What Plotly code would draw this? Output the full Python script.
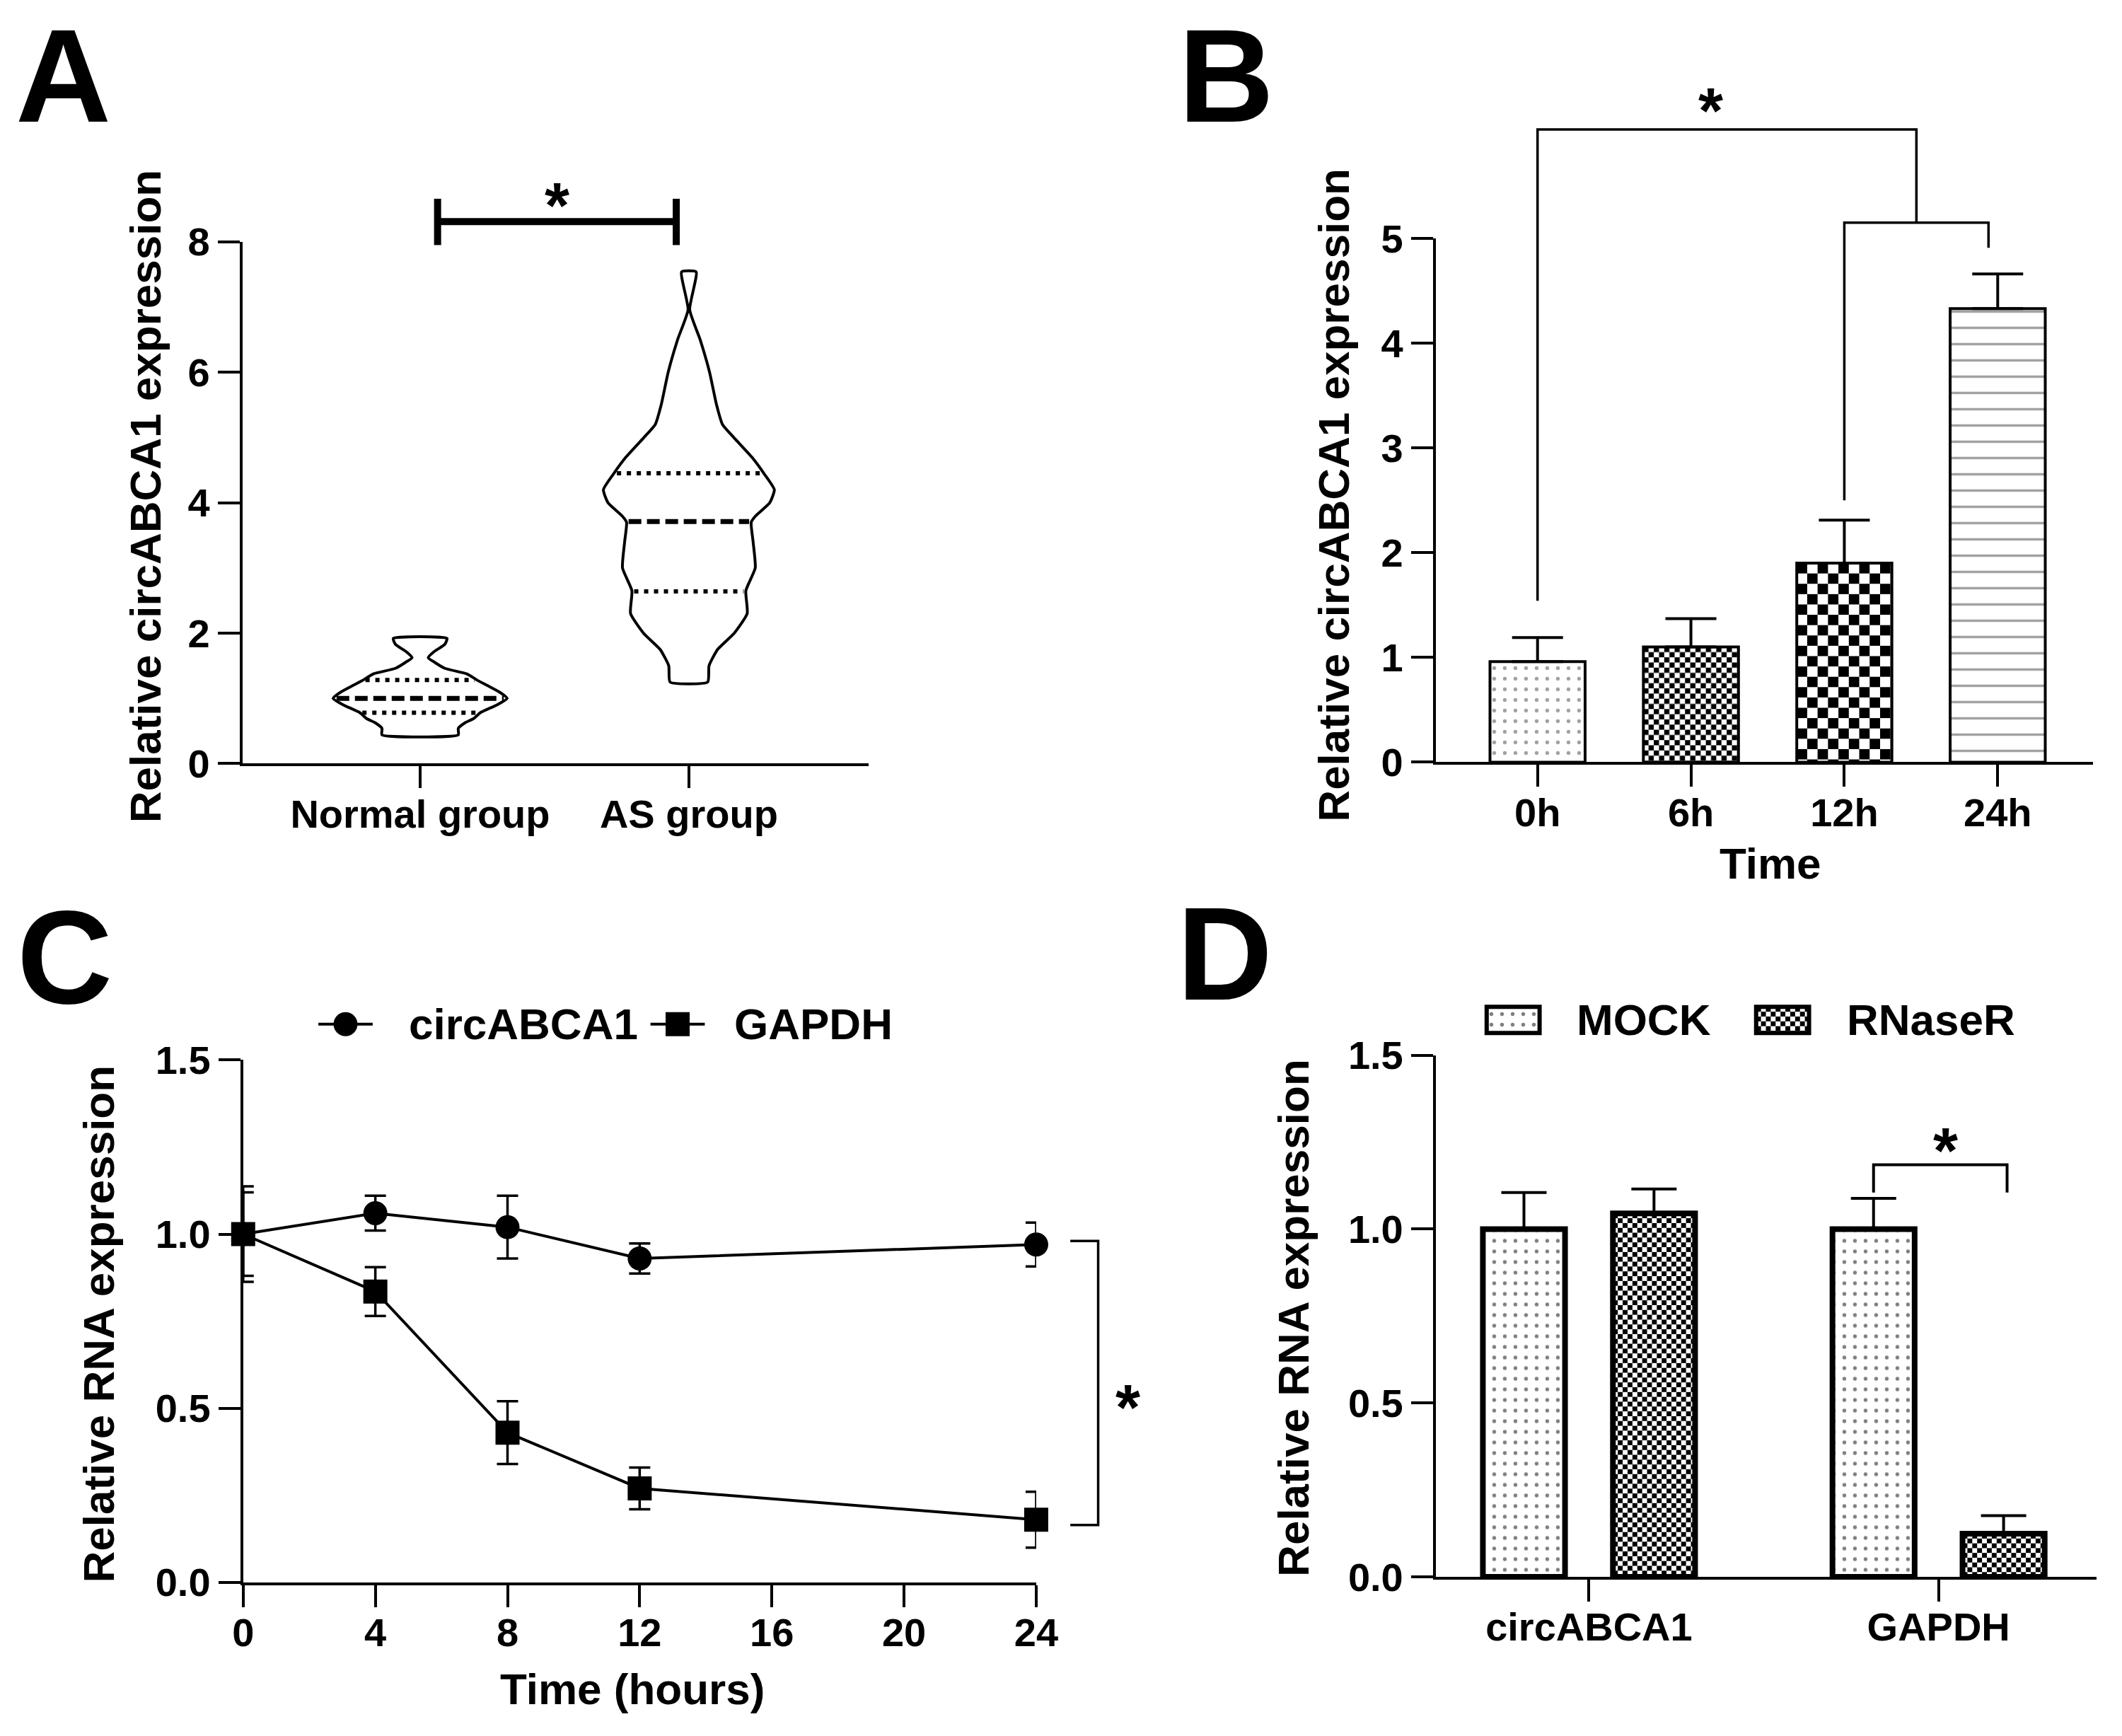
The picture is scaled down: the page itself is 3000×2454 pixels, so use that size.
import base64

import numpy as np
import plotly.graph_objects as go

W, H = 3000, 2454
FONT = "Liberation Sans, Arial, Helvetica, sans-serif"

# ---------------- data ----------------
# A: violin outlines (level, half width in category units) and quartiles
violin_groups = ["Normal group", "AS group"]
normal_levels = [0.44, 0.54, 0.62, 0.69, 0.78, 0.90, 1.00, 1.10, 1.20, 1.28,
                 1.375, 1.46, 1.55, 1.625, 1.71, 1.83, 1.92]
normal_width = [0.142, 0.142, 0.165, 0.199, 0.224, 0.286, 0.324, 0.294, 0.249, 0.212,
                0.174, 0.092, 0.055, 0.03, 0.05, 0.092, 0.10]
normal_quartiles = [0.78, 1.00, 1.28]
as_levels = [1.25, 1.50, 1.75, 2.00, 2.30, 2.65, 3.00, 3.40, 3.70, 3.80, 4.00,
             4.20, 4.45, 4.70, 5.00, 5.20, 5.50, 6.00, 6.50, 6.96, 7.54]
as_width = [0.07, 0.075, 0.107, 0.169, 0.217, 0.212, 0.247, 0.239, 0.232, 0.249, 0.301,
            0.318, 0.279, 0.234, 0.167, 0.125, 0.103, 0.077, 0.042, 0.003, 0.027]
as_quartiles = [2.64, 3.71, 4.45]

# B: expression over time
time_labels = ["0h", "6h", "12h", "24h"]
time_means = [0.96, 1.10, 1.90, 4.33]
time_err = [0.23, 0.27, 0.41, 0.33]

# C: RNA stability
hours = [0, 4, 8, 12, 24]
hour_ticks = [0, 4, 8, 12, 16, 20, 24]
circ_decay = [1.00, 1.06, 1.02, 0.93, 0.97]
circ_decay_err = [0.12, 0.05, 0.09, 0.043, 0.063]
gapdh_decay = [1.00, 0.835, 0.43, 0.27, 0.18]
gapdh_decay_err = [0.137, 0.07, 0.09, 0.06, 0.08]

# D: RNase R digestion
rnase_genes = ["circABCA1", "GAPDH"]
mock_vals = [1.00, 1.00]
mock_err = [0.105, 0.088]
rnaser_vals = [1.045, 0.124]
rnaser_err = [0.07, 0.052]


def px(x):
    return x / W


def py(y):
    return 1 - y / H


def to_paper(v, dom, rng):
    return dom[0] + (v - rng[0]) / (rng[1] - rng[0]) * (dom[1] - dom[0])


# panel geometry (pixel positions of axis ends in the reference)
DA_X, DA_Y = (px(332), px(1231)), (py(1076), py(319))
DB_X, DB_Y = (px(2046), px(2990)), (py(1074), py(314))
DC_X, DC_Y = (px(333), px(1472)), (py(2264), py(1506))
DD_X, DD_Y = (px(2046), px(2995)), (py(2256), py(1499))
RA_X, RA_Y = [-0.661, 1.668], [0, 8]
RB_X, RB_Y = [-0.663, 3.622], [0, 5]
RC_X, RC_Y = [0, 24], [0, 1.5]
RD_X, RD_Y = [-0.438, 1.452], [0, 1.5]


def checker_uri(w, h, cell):
    # checkerboard texture used as bar fill
    svg = (f"<svg xmlns='http://www.w3.org/2000/svg' width='{w:.0f}' height='{h:.0f}'>"
           f"<defs><pattern id='p' width='{2 * cell}' height='{2 * cell}' patternUnits='userSpaceOnUse'>"
           f"<rect width='{cell}' height='{cell}'/><rect x='{cell}' y='{cell}' width='{cell}' height='{cell}'/>"
           f"</pattern></defs><rect width='100%' height='100%' fill='white'/>"
           f"<rect width='100%' height='100%' fill='url(#p)'/></svg>")
    return "data:image/svg+xml;base64," + base64.b64encode(svg.encode()).decode()


DOTS = dict(shape=".", size=15, solidity=0.1, fgcolor="black", fillmode="overlay")

fig = go.Figure()
images = []

# ---------------- A: violins ----------------
for c, (lv, wd, qs) in enumerate([(normal_levels, normal_width, normal_quartiles),
                                  (as_levels, as_width, as_quartiles)]):
    lv, wd = np.array(lv), np.array(wd)
    xs = np.r_[c + wd, (c - wd)[::-1], c + wd[0]]
    ys = np.r_[lv, lv[::-1], lv[0]]
    fig.add_trace(go.Scatter(x=xs, y=ys, mode="lines", fill="toself", fillcolor="white",
                             line=dict(color="black", width=4, shape="spline", smoothing=0.5),
                             xaxis="x", yaxis="y", hoverinfo="skip"))
    for i, q in enumerate(qs):
        h = np.interp(q, lv, wd) * 0.96
        median = i == 1
        fig.add_trace(go.Scatter(x=[c - h, c + h], y=[q, q], mode="lines",
                                 line=dict(color="black", width=7 if median else 6,
                                           dash="18px,8px" if median else "6px,8px"),
                                 xaxis="x", yaxis="y", hoverinfo="skip"))

# ---------------- B: bars over time ----------------
b_width = 0.62
b_checker = [None, 7.5, 15, None]
fig.add_trace(go.Bar(
    x=list(range(len(time_labels))), y=time_means, width=b_width,
    marker=dict(color=["white", "rgba(0,0,0,0)", "rgba(0,0,0,0)", "white"],
                line=dict(color="black", width=4),
                pattern=dict(shape=[".", "", "", "-"], size=[15, 10, 10, 23],
                             solidity=[0.1, 0.3, 0.3, 0.15], fgcolor="black",
                             fillmode="overlay")),
    error_y=dict(type="data", array=time_err, arrayminus=[0] * len(time_err), symmetric=False,
                 color="black", thickness=4, width=36),
    xaxis="x2", yaxis="y2"))
bx_unit = (DB_X[1] - DB_X[0]) * W / (RB_X[1] - RB_X[0])
by_unit = (DB_Y[1] - DB_Y[0]) * H / (RB_Y[1] - RB_Y[0])
for i, cell in enumerate(b_checker):
    if cell:
        images.append(dict(source=checker_uri(b_width * bx_unit, time_means[i] * by_unit, cell),
                           xref="x2", yref="y2", x=i - b_width / 2, y=time_means[i],
                           sizex=b_width, sizey=time_means[i], xanchor="left", yanchor="top",
                           sizing="stretch", layer="below"))

# ---------------- C: decay lines ----------------
for vals, errs, sym in [(circ_decay, circ_decay_err, "circle"), (gapdh_decay, gapdh_decay_err, "square")]:
    fig.add_trace(go.Scatter(
        x=hours, y=vals, mode="lines+markers", cliponaxis=False,
        line=dict(color="black", width=4),
        marker=dict(symbol=sym, size=34, color="black"),
        error_y=dict(type="data", array=errs, color="black", thickness=3.5, width=15),
        xaxis="x3", yaxis="y3"))

# ---------------- D: grouped bars ----------------
bar_w, shift = 0.235, 0.186
dx_unit = (DD_X[1] - DD_X[0]) * W / (RD_X[1] - RD_X[0])
dy_unit = (DD_Y[1] - DD_Y[0]) * H / (RD_Y[1] - RD_Y[0])
fig.add_trace(go.Bar(
    x=list(range(len(rnase_genes))), y=mock_vals, width=bar_w, offset=-shift - bar_w / 2,
    marker=dict(color="white", line=dict(color="black", width=8), pattern=DOTS),
    error_y=dict(type="data", array=mock_err, arrayminus=[0, 0], symmetric=False,
                 color="black", thickness=4, width=32),
    xaxis="x4", yaxis="y4"))
fig.add_trace(go.Bar(
    x=list(range(len(rnase_genes))), y=rnaser_vals, width=bar_w, offset=shift - bar_w / 2,
    marker=dict(color="rgba(0,0,0,0)", line=dict(color="black", width=8)),
    error_y=dict(type="data", array=rnaser_err, arrayminus=[0, 0], symmetric=False,
                 color="black", thickness=4, width=32),
    xaxis="x4", yaxis="y4"))
for i, v in enumerate(rnaser_vals):
    images.append(dict(source=checker_uri(bar_w * dx_unit, v * dy_unit, 7),
                       xref="x4", yref="y4", x=i + shift - bar_w / 2, y=v,
                       sizex=bar_w, sizey=v, xanchor="left", yanchor="top",
                       sizing="stretch", layer="below"))

# ---------------- custom legends on a page-pixel axis ----------------
for x0, sym in [(441, "circle"), (918, "square")]:
    fig.add_trace(go.Scatter(x=[x0, x0 + 78], y=[1454, 1454], mode="lines",
                             line=dict(color="black", width=4),
                             xaxis="x5", yaxis="y5", hoverinfo="skip"))
    fig.add_trace(go.Scatter(x=[x0 + 39], y=[1454], mode="markers", cliponaxis=False,
                             marker=dict(symbol=sym, size=34, color="black"),
                             xaxis="x5", yaxis="y5", hoverinfo="skip"))
fig.add_trace(go.Bar(x=[2157], y=[38], base=[1429], width=[76],
                     marker=dict(color="white", line=dict(color="black", width=6), pattern=DOTS),
                     xaxis="x5", yaxis="y5", hoverinfo="skip"))
fig.add_trace(go.Bar(x=[2544], y=[38], base=[1429], width=[76],
                     marker=dict(color="rgba(0,0,0,0)", line=dict(color="black", width=6)),
                     xaxis="x5", yaxis="y5", hoverinfo="skip"))
images.append(dict(source=checker_uri(76, 38, 7), xref="x5", yref="y5", x=2506, y=1429,
                   sizex=76, sizey=38, xanchor="left", yanchor="top", sizing="stretch",
                   layer="below"))

# ---------------- axes ----------------
tickfont = dict(family=FONT, size=56, color="black", weight="bold")


def ax(**kw):
    base = dict(showline=True, linecolor="black", linewidth=4, ticks="outside", ticklen=31,
                tickwidth=4, tickcolor="black", showgrid=False, zeroline=False,
                tickfont=tickfont, fixedrange=True)
    base.update(kw)
    return base


XSTAND, YSTAND = -12, 0
fig.update_layout(
    xaxis=ax(domain=DA_X, range=RA_X, tickvals=[0, 1], ticktext=violin_groups, anchor="y",
             ticklabelstandoff=XSTAND),
    yaxis=ax(domain=DA_Y, range=RA_Y, tickvals=[0, 2, 4, 6, 8], anchor="x",
             ticklabelstandoff=YSTAND),
    xaxis2=ax(domain=DB_X, range=RB_X, tickvals=list(range(len(time_labels))),
              ticktext=time_labels, anchor="y2", ticklabelstandoff=XSTAND),
    yaxis2=ax(domain=DB_Y, range=RB_Y, dtick=1, anchor="x2", ticklabelstandoff=YSTAND),
    xaxis3=ax(domain=DC_X, range=RC_X, tickvals=hour_ticks, anchor="y3",
              ticklabelstandoff=XSTAND),
    yaxis3=ax(domain=DC_Y, range=RC_Y, dtick=0.5, tickformat=".1f", anchor="x3",
              ticklabelstandoff=YSTAND),
    xaxis4=ax(domain=DD_X, range=RD_X, tickvals=list(range(len(rnase_genes))),
              ticktext=rnase_genes, anchor="y4", ticklabelstandoff=XSTAND),
    yaxis4=ax(domain=DD_Y, range=RD_Y, dtick=0.5, tickformat=".1f", anchor="x4",
              ticklabelstandoff=YSTAND),
    xaxis5=dict(domain=[0, 1], range=[0, W], visible=False, anchor="y5", fixedrange=True),
    yaxis5=dict(domain=[0, 1], range=[H, 0], visible=False, anchor="x5", fixedrange=True),
)


# ---------------- significance marks ----------------
def pa(v):
    return to_paper(v, DA_Y, RA_Y)


def pb(v):
    return to_paper(v, DB_Y, RB_Y)


def pd(v):
    return to_paper(v, DD_Y, RD_Y)


shapes = [
    dict(type="line", xref="x", yref="paper", x0=0.065, x1=0.953, y0=pa(8.31), y1=pa(8.31),
         line=dict(color="black", width=10)),
    dict(type="line", xref="x", yref="paper", x0=0.065, x1=0.065, y0=pa(7.95), y1=pa(8.66),
         line=dict(color="black", width=10)),
    dict(type="line", xref="x", yref="paper", x0=0.953, x1=0.953, y0=pa(7.95), y1=pa(8.66),
         line=dict(color="black", width=10)),
    dict(type="path", xref="x2", yref="paper",
         path=f"M 0,{pb(1.54)} V {pb(6.04)} H 2.47 V {pb(5.15)}",
         line=dict(color="black", width=3.5)),
    dict(type="path", xref="x2", yref="paper",
         path=f"M 2,{pb(2.5)} V {pb(5.15)} H 2.94 V {pb(4.91)}",
         line=dict(color="black", width=3.5)),
    dict(type="path", xref="paper", yref="y3",
         path=f"M {px(1521)},{circ_decay[-1] + 0.01} H {px(1561)} V {gapdh_decay[-1] - 0.015} H {px(1521)}",
         line=dict(color="black", width=3.5)),
    dict(type="path", xref="x4", yref="paper",
         path=f"M {1 - shift},{pd(1.105)} V {pd(1.185)} H {1 + shift + 0.01} V {pd(1.105)}",
         line=dict(color="black", width=4)),
]
fig.update_layout(shapes=shapes, images=images)

ann = []


def text(x, y, s, size, xanchor="center", angle=0, yshift=0):
    ann.append(dict(x=x, y=y, xref="paper", yref="paper", text=s, showarrow=False,
                    xanchor=xanchor, yanchor="middle", textangle=angle, yshift=yshift,
                    font=dict(family=FONT, size=size, color="black", weight="bold")))


# panel letters
for letter, (lx, ly) in {"A": (75, 79), "B": (1745, 79), "C": (77, 1357), "D": (1743, 1352)}.items():
    text(px(lx), py(ly), letter, 187)

# axis titles
text(px(192), py(688), "Relative circABCA1 expression", 62, angle=-90)
text(px(1899), py(686), "Relative circABCA1 expression", 62, angle=-90)
text(px(2527), py(1221), "Time", 62)
text(px(125), py(1889), "Relative RNA expression", 62, angle=-90)
text(px(892), py(2419), "Time (hours)", 62)
text(px(1842), py(1880), "Relative RNA expression", 62, angle=-90)

# legend labels
text(px(569), py(1454), "circABCA1", 62, xanchor="left")
text(px(1036), py(1454), "GAPDH", 62, xanchor="left")
text(px(2246), py(1448), "MOCK", 62, xanchor="left")
text(px(2634), py(1448), "RNaseR", 62, xanchor="left")

# stars
star_font = dict(family=FONT, size=90, color="black", weight="bold")
for sx, sy, sxref in [(0.51, pa(8.76), "x"), (1.13, pb(6.34), "x2"),
                      (px(1604), py(1991), "paper"), (1.02, pd(1.264), "x4")]:
    ann.append(dict(x=sx, y=sy, xref=sxref, yref="paper", text="*", showarrow=False,
                    xanchor="center", yanchor="middle", yshift=-19, font=star_font))

fig.update_layout(
    annotations=ann,
    width=W, height=H,
    margin=dict(l=0, r=0, t=0, b=0),
    paper_bgcolor="white", plot_bgcolor="rgba(0,0,0,0)",
    showlegend=False, barmode="overlay",
    font=dict(family=FONT, color="black"),
)

fig.write_html("out.html", config={"displayModeBar": False},
               post_script="document.body.style.margin='0px';"
                           "document.body.style.overflow='hidden';")
